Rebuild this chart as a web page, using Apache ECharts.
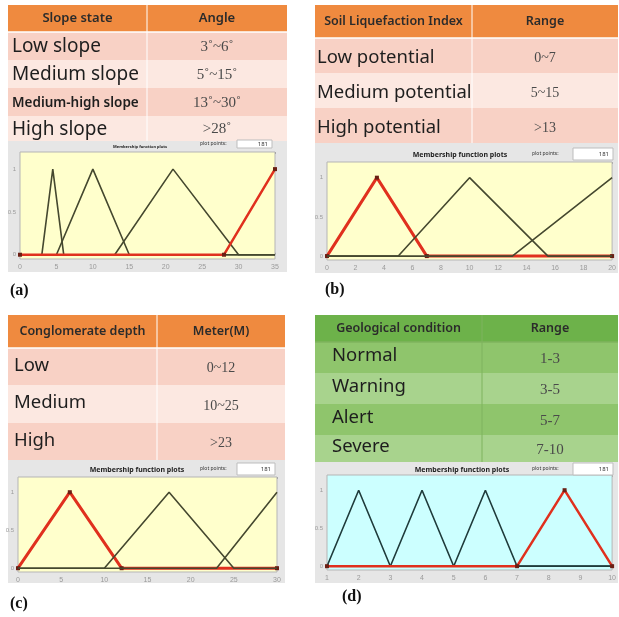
<!DOCTYPE html>
<html><head><meta charset="utf-8">
<script src="https://cdn.jsdelivr.net/npm/echarts@6/dist/echarts.min.js"></script>
<style>html,body{margin:0;padding:0;background:#fff}#chart{width:619px;height:617px}</style>
</head><body><div id="chart"></div>
<script>
// ---- Table contents ----
const slopeHeader = ['Slope state', 'Angle'];
const slopeStates = ['Low slope', 'Medium slope', 'Medium-high slope', 'High slope'];
const slopeAngles = ['3˚~6˚', '5˚~15˚', '13˚~30˚', '>28˚'];

const liqHeader = ['Soil Liquefaction Index', 'Range'];
const liqLevels = ['Low potential', 'Medium potential', 'High potential'];
const liqRanges = ['0~7', '5~15', '>13'];

const depthHeader = ['Conglomerate depth', 'Meter(M)'];
const depthLevels = ['Low', 'Medium', 'High'];
const depthRanges = ['0~12', '10~25', '>23'];

const geoHeader = ['Geological condition', 'Range'];
const geoLevels = ['Normal', 'Warning', 'Alert', 'Severe'];
const geoRanges = ['1-3', '3-5', '5-7', '7-10'];

// ---- Membership functions, vertices as [x, degree] ----
const slopeLowMF = [[0, 0], [3, 0], [4.5, 1], [6, 0], [35, 0]];
const slopeMediumMF = [[0, 0], [5, 0], [10, 1], [15, 0], [35, 0]];
const slopeMedHighMF = [[0, 0], [13, 0], [21, 1], [30, 0], [35, 0]];
const slopeHighMF = [[0, 0], [28, 0], [35, 1]];

const liqLowMF = [[0, 0], [3.5, 1], [7, 0], [20, 0]];
const liqMediumMF = [[0, 0], [5, 0], [10, 1], [15.5, 0], [20, 0]];
const liqHighMF = [[0, 0], [13, 0], [20, 1]];

const depthLowMF = [[0, 0], [6, 1], [12, 0], [30, 0]];
const depthMediumMF = [[0, 0], [10, 0], [17.5, 1], [25, 0], [30, 0]];
const depthHighMF = [[0, 0], [23, 0], [30, 1]];

const geoNormalMF = [[1, 0], [2, 1], [3, 0], [10, 0]];
const geoWarningMF = [[1, 0], [3, 0], [4, 1], [5, 0], [10, 0]];
const geoAlertMF = [[1, 0], [5, 0], [6, 1], [7, 0], [10, 0]];
const geoSevereMF = [[1, 0], [7, 0], [8.5, 1], [10, 0]];

// Universe ranges and tick steps of the four plots
const slopeRange = [0, 35, 5];
const liqRange = [0, 20, 2];
const depthRange = [0, 30, 5];
const geoRange = [1, 10, 1];
const degreeTicks = [0, 0.5, 1];
const plotPoints = '181';

// ---- Colours ----
const ORANGE = '#ef8a3f', PINK = '#f8d1c5', PINK_LIGHT = '#fce8e1';
const GREEN_HEAD = '#6db24a', GREEN = '#8fc56c', GREEN_LIGHT = '#a8d38d';
const PANEL = '#e6e6e6', YELLOW = '#ffffcc', CYAN = '#ccffff';
const RED = '#e0301e', DARK = '#45482f', DARK_TEAL = '#1f3b3b';

const SANS = '"Noto Sans", "Open Sans", sans-serif';
const SERIF = '"Liberation Serif", "DejaVu Serif", serif';

const graphics = [];

function rect(x, y, w, h, fill, extra) {
  graphics.push(Object.assign({
    type: 'rect', shape: { x, y, width: w, height: h },
    style: { fill }, z: 1, silent: true
  }, extra || {}));
}
function text(str, x, y, font, fill, align, extra) {
  graphics.push(Object.assign({
    type: 'text', z: 5, silent: true,
    style: { text: str, x, y, font, fill: fill || '#222', textAlign: align || 'left', textVerticalAlign: 'middle' }
  }, extra || {}));
}

// Generic two-column table
function table(cfg) {
  const { x0, x1, xd, top, headH, rowEdges, header, labels, values, headFill, rowFills,
          headFont, labelFonts, valueFont, labelX, labelDy, valueDy, line } = cfg;
  rect(x0, top, x1 - x0, headH, headFill);
  text(header[0], (x0 + xd) / 2, top + headH / 2, headFont, '#2b2b2b', 'center');
  text(header[1], (xd + x1) / 2, top + headH / 2, headFont, '#2b2b2b', 'center');
  for (let i = 0; i < labels.length; i++) {
    const y0 = rowEdges[i], y1 = rowEdges[i + 1];
    rect(x0, y0, x1 - x0, y1 - y0, rowFills[i % 2]);
    const cy = (y0 + y1) / 2;
    text(labels[i], labelX, cy + labelDy, labelFonts[i] || labelFonts[0], '#1e1e1e', 'left');
    text(values[i], (xd + x1) / 2, cy + valueDy, valueFont, '#4a4a4a', 'center');
  }
  // column divider and header separator
  graphics.push({ type: 'line', z: 3, silent: true, shape: { x1: xd, y1: top, x2: xd, y2: rowEdges[rowEdges.length - 1] },
    style: { stroke: line, lineWidth: 1 } });
  graphics.push({ type: 'line', z: 3, silent: true, shape: { x1: x0, y1: top + headH, x2: x1, y2: top + headH },
    style: { stroke: line, lineWidth: 1.5 } });
}

// Gray figure panel with title and plot-point box
function panel(x, y, w, h, titleX, titleY, titleFont, box) {
  rect(x, y, w, h, PANEL, { z: 0 });
  text('Membership function plots', titleX, titleY, titleFont, '#222', 'center');
  if (box) {
    text('plot points:', box.lx, box.y + box.h / 2, '5px ' + SANS, '#333', 'left');
    rect(box.x, box.y, box.w, box.h, '#ffffff', { style: { fill: '#fff', stroke: '#bdbdbd', lineWidth: 1 }, z: 2 });
    text(plotPoints, box.x + box.w - 4, box.y + box.h / 2, '6px ' + SANS, '#333', 'right');
  }
}

// ---- Panels (drawn under the tables) ----
panel(8, 140, 279, 132, 140, 147, 'bold 4px ' + SANS, { x: 237, y: 140, w: 35, h: 8, lx: 200 });
panel(315, 143, 303, 130, 460, 155, 'bold 7px ' + SANS, { x: 573, y: 148, w: 40, h: 12, lx: 532 });
panel(8, 460, 277, 123, 137, 470, 'bold 7px ' + SANS, { x: 237, y: 463, w: 38, h: 12, lx: 200 });
panel(315, 462, 303, 121, 462, 470, 'bold 7px ' + SANS, { x: 573, y: 463, w: 40, h: 12, lx: 532 });

// ---- Tables ----
table({ x0: 8, x1: 287, xd: 147, top: 5, headH: 27, rowEdges: [32, 60, 88, 116, 141],
  header: slopeHeader, labels: slopeStates, values: slopeAngles,
  headFill: ORANGE, rowFills: [PINK, PINK_LIGHT],
  headFont: '600 13px ' + SANS, labelFonts: ['19px ' + SANS, '19px ' + SANS, '600 13.5px ' + SANS, '19px ' + SANS],
  valueFont: '15px ' + SERIF, labelX: 12, labelDy: 1, valueDy: 1, line: '#ffffff' });

table({ x0: 315, x1: 618, xd: 472, top: 5, headH: 33, rowEdges: [38, 73, 108, 143],
  header: liqHeader, labels: liqLevels, values: liqRanges,
  headFill: ORANGE, rowFills: [PINK, PINK_LIGHT],
  headFont: '600 12.5px ' + SANS, labelFonts: ['18.5px ' + SANS],
  valueFont: '14px ' + SERIF, labelX: 317, labelDy: 2, valueDy: 3, line: '#ffffff' });

table({ x0: 8, x1: 285, xd: 157, top: 315, headH: 33, rowEdges: [348, 385, 423, 460],
  header: depthHeader, labels: depthLevels, values: depthRanges,
  headFill: ORANGE, rowFills: [PINK, PINK_LIGHT],
  headFont: '600 12.5px ' + SANS, labelFonts: ['18.5px ' + SANS],
  valueFont: '14px ' + SERIF, labelX: 14, labelDy: -1, valueDy: 2, line: '#ffffff' });

table({ x0: 315, x1: 618, xd: 482, top: 315, headH: 27, rowEdges: [342, 373, 404, 435, 462],
  header: geoHeader, labels: geoLevels, values: geoRanges,
  headFill: GREEN_HEAD, rowFills: [GREEN, GREEN_LIGHT],
  headFont: '600 12.5px ' + SANS, labelFonts: ['18.5px ' + SANS],
  valueFont: '15px ' + SERIF, labelX: 332, labelDy: -2, valueDy: 2, line: '#7fb35e' });

// Sub-figure captions
text('(a)', 10, 291, 'bold 16px ' + SERIF, '#111', 'left', { z: 5 });
text('(b)', 325, 290, 'bold 16px ' + SERIF, '#111', 'left', { z: 5 });
text('(c)', 10, 604, 'bold 16px ' + SERIF, '#111', 'left', { z: 5 });
text('(d)', 342, 597, 'bold 16px ' + SERIF, '#111', 'left', { z: 5 });

// ---- Plot grids ----
const grids = [
  { left: 20, top: 152, width: 255, height: 107, backgroundColor: YELLOW },
  { left: 327, top: 162, width: 288, height: 98, backgroundColor: YELLOW },
  { left: 18, top: 477, width: 259, height: 95, backgroundColor: YELLOW },
  { left: 327, top: 475, width: 288, height: 95, backgroundColor: CYAN }
].map(g => Object.assign({ show: true, borderColor: '#b5b5b5', borderWidth: 1, z: 2 }, g));

const ranges = [slopeRange, liqRange, depthRange, geoRange];
const xAxes = [], yAxes = [];
ranges.forEach((r, i) => {
  xAxes.push({
    type: 'value', gridIndex: i, min: r[0], max: r[1], interval: r[2], position: 'bottom',
    axisLine: { show: false }, splitLine: { show: false },
    axisTick: { inside: true, length: 2, lineStyle: { color: '#999' } },
    axisLabel: { fontSize: 7, color: '#9a9a9a', margin: 5, fontFamily: 'Liberation Sans' }
  });
  xAxes.push({
    type: 'value', gridIndex: i, min: r[0], max: r[1], interval: r[2], position: 'top',
    axisLine: { show: false }, splitLine: { show: false }, axisLabel: { show: false },
    axisTick: { inside: true, length: 2, lineStyle: { color: '#999' } }
  });
  yAxes.push({
    type: 'value', gridIndex: i, min: -0.05, max: 1.2,
    axisLine: { show: false }, splitLine: { show: false },
    axisTick: { inside: true, length: 2, customValues: degreeTicks, lineStyle: { color: '#999' } },
    axisLabel: { fontSize: 6, color: '#9a9a9a', margin: 4, customValues: degreeTicks, fontFamily: 'Liberation Sans' }
  });
});

function mf(i, data, color, width, z, marked) {
  return {
    type: 'line', xAxisIndex: i * 2, yAxisIndex: i, data, z,
    lineStyle: { color, width }, animation: false, silent: true,
    symbol: marked ? 'rect' : 'none', symbolSize: 4, showSymbol: !!marked,
    itemStyle: { color: '#6a1f14' }
  };
}

const series = [
  mf(0, slopeLowMF, DARK, 1.6, 3), mf(0, slopeMediumMF, DARK, 1.6, 3),
  mf(0, slopeMedHighMF, DARK, 1.6, 3), mf(0, slopeHighMF, RED, 2.5, 4, true),

  mf(1, liqLowMF, RED, 3, 3, true), mf(1, liqMediumMF, DARK, 1.6, 4),
  mf(1, liqHighMF, DARK, 1.6, 4),

  mf(2, depthLowMF, RED, 3, 3, true), mf(2, depthMediumMF, DARK, 1.6, 4),
  mf(2, depthHighMF, DARK, 1.6, 4),

  mf(3, geoNormalMF, DARK_TEAL, 1.6, 3), mf(3, geoWarningMF, DARK_TEAL, 1.6, 3),
  mf(3, geoAlertMF, DARK_TEAL, 1.6, 3), mf(3, geoSevereMF, RED, 2.5, 4, true)
];

const chart = echarts.init(document.getElementById('chart'), null, { renderer: 'canvas' });
chart.setOption({
  backgroundColor: '#ffffff',
  animation: false,
  grid: grids,
  xAxis: xAxes,
  yAxis: yAxes,
  series,
  graphic: { elements: graphics }
});
</script></body></html>
